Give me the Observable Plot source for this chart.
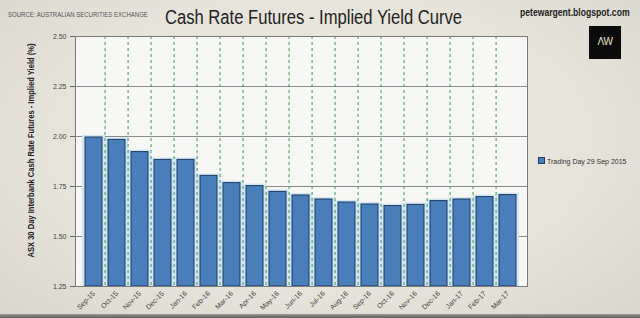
<!DOCTYPE html>
<html>
<head>
<meta charset="utf-8">
<script src="https://cdn.jsdelivr.net/npm/d3@7"></script>
<script src="https://cdn.jsdelivr.net/npm/@observablehq/plot@0.6"></script>
<style>
  html, body { margin: 0; padding: 0; }
  #wrap {
    position: relative; width: 640px; height: 318px; overflow: hidden;
    background: radial-gradient(ellipse at 50% 45%, #ebe9e1 0%, #e6e3da 60%, #d9d6cc 100%);
    font-family: "Liberation Sans", Arial, sans-serif;
  }
  #wrap::after {
    content: ""; position: absolute; left: 0; right: 0; bottom: 0; height: 4px;
    background: linear-gradient(#9a9890, #5f5d57);
  }
  #chart { position: absolute; left: 0; top: 0; }
  .t { position: absolute; white-space: nowrap; transform-origin: 0 0; }
  #source { left: 8px; top: 11px; font: 7px "Liberation Sans", sans-serif; color: #555; transform: scaleX(0.86); }
  #title { left: 165px; top: 6px; font: 20px "Liberation Sans", sans-serif; color: #222; transform: scaleX(0.83); }
  #site { left: 520px; top: 6px; font: bold 10.5px "Liberation Sans", sans-serif; color: #222; transform: scaleX(0.82); }
  #logo { left: 589px; top: 26px; width: 32px; height: 33px; background: #0b0b0b; color: #e8e2c8;
          font: 10px "Liberation Sans", sans-serif; text-align: center; line-height: 31px; letter-spacing: -0.5px; }
  #legend { left: 538px; top: 157px; font: 7px "Liberation Sans", sans-serif; color: #333; }
  #legend span.sw { display: inline-block; width: 5px; height: 5px; background: #4a7ebb; border: 0.5px solid #1c3a63; margin-right: 2px; vertical-align: 0px; }
</style>
</head>
<body>
<div id="wrap">
  <div id="chart"></div>
  <div class="t" id="source">SOURCE: AUSTRALIAN SECURITIES EXCHANGE</div>
  <div class="t" id="title">Cash Rate Futures - Implied Yield Curve</div>
  <div class="t" id="site">petewargent.blogspot.com</div>
  <div class="t" id="logo">ΛW</div>
  <div class="t" id="legend"><span class="sw"></span>Trading Day 29 Sep 2015</div>
</div>
<script>
const months = ["Sep-15","Oct-15","Nov-15","Dec-15","Jan-16","Feb-16","Mar-16","Apr-16","May-16","Jun-16",
  "Jul-16","Aug-16","Sep-16","Oct-16","Nov-16","Dec-16","Jan-17","Feb-17","Mar-17"];
const yields = [1.995, 1.983, 1.922, 1.883, 1.883, 1.803, 1.767, 1.752, 1.723, 1.705,
  1.685, 1.670, 1.660, 1.652, 1.658, 1.677, 1.685, 1.697, 1.707];
const yTicks = [1.25, 1.50, 1.75, 2.00, 2.25, 2.50];
const yLabel = "ASX 30 Day Interbank Cash Rate Futures - Implied Yield (%)";
const baseline = 1.25;

const W = 640, H = 318, mL = 75, mR = 113, mT = 36, mB = 32;
const pIn = 0.25, pOut = 0.107;
const step = (W - mL - mR) / (months.length - pIn + 2 * pOut);

const data = months.map((m, i) => ({month: m, value: yields[i]}));

const chart = Plot.plot({
  width: W, height: H,
  marginLeft: mL, marginRight: mR, marginTop: mT, marginBottom: mB,
  style: {background: "transparent", fontFamily: "Liberation Sans, Arial, sans-serif", fontSize: "7px", color: "#444"},
  x: {domain: months, paddingInner: pIn, paddingOuter: pOut, label: null},
  y: {domain: [baseline, 2.5], label: null},
  marks: [
    Plot.frame({fill: "#f7f7f5", stroke: "none"}),
    Plot.gridY(yTicks, {stroke: "#8c8c8c", strokeOpacity: 1, strokeWidth: 1}),
    Plot.barY(data, {x: "month", y1: baseline, y2: "value", fill: "#d2e5f2", insetLeft: -3, insetRight: -3, insetTop: -2}),
    Plot.ruleX(months.slice(1), {dx: -step / 2, stroke: "#3f9a55", strokeDasharray: "3,3", strokeWidth: 1}),
    Plot.barY(data, {x: "month", y1: baseline, y2: "value", fill: "#4a7ebb", stroke: "#1c3a63", strokeWidth: 1}),
    Plot.axisY({ticks: yTicks, tickFormat: d3.format(".2f"), tickSize: 5, tickPadding: 4, label: null, stroke: "#666"}),
    Plot.axisX({tickRotate: -45, tickSize: 0, tickPadding: 6, label: null}),
    Plot.text([yLabel], {frameAnchor: "left", textAnchor: "middle", rotate: -90, dx: -44, dy: -11, fontWeight: "bold", fontSize: 8.5, fill: "#222",
      className: "ylabel"}),
    Plot.frame({stroke: "#7a7a7a"})
  ]
});
document.getElementById("chart").appendChild(chart);
chart.querySelectorAll(".ylabel text, text.ylabel").forEach(yl => {
  yl.setAttribute("textLength", 214); yl.setAttribute("lengthAdjust", "spacingAndGlyphs");
});
</script>
</body>
</html>
